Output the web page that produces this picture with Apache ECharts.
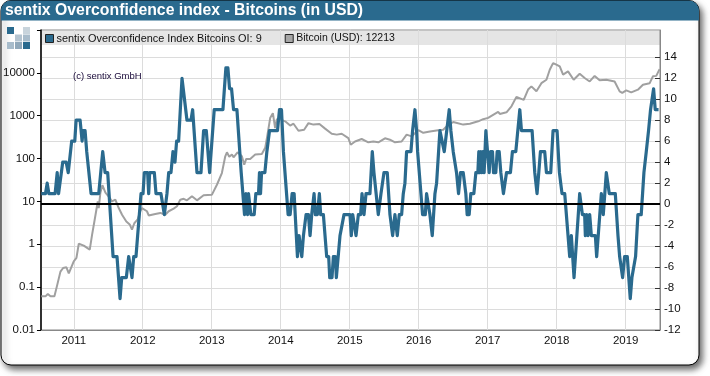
<!DOCTYPE html>
<html>
<head>
<meta charset="utf-8">
<title>sentix Overconfidence index - Bitcoins</title>
<style>
html,body{margin:0;padding:0;background:#fff;}
#chart{width:710px;height:376px;}
</style>
<script src="https://cdn.jsdelivr.net/npm/echarts@6/dist/echarts.min.js"></script>
</head>
<body>
<div id="chart"></div>
<script>
// year ticks on the bottom axis, index ticks on the right axis
var yearTicks = [2011,2012,2013,2014,2015,2016,2017,2018,2019];
var indexTicks = [-12,-10,-8,-6,-4,-2,0,2,4,6,8,10,12,14];

// sentix index (decimal year / value at each change)
var indexYears = [
2010.53,2010.59,2010.615,2010.64,2010.73,2010.76,2010.78,2010.84,2010.89,2010.92,2010.97,2011.015,2011.034,2011.092,2011.121,2011.135,2011.164,2011.188,2011.208,2011.251,2011.362,2011.42,2011.435,2011.454,2011.492,2011.57,2011.627,2011.671,2011.695,2011.762,2011.796,2011.82,2011.844,2011.869,2011.902,2011.926,2011.951,2011.975,2012.004,2012.023,2012.071,2012.086,2012.10,2012.168,2012.192,2012.264,2012.313,
2012.337,2012.351,2012.376,2012.409,2012.438,2012.467,2012.491,2012.52,2012.569,2012.593,2012.641,2012.699,2012.723,2012.737,2012.786,2012.844,2012.882,2012.921,2012.969,2012.988,2013.036,2013.162,2013.205,2013.234,2013.258,2013.287,2013.316,2013.365,2013.427,2013.442,2013.475,2013.495,2013.519,2013.533,2013.557,2013.567,2013.615,2013.639,2013.678,2013.692,2013.707,2013.722,2013.77,2013.799,2013.837,2013.953,2013.982,2014.011,
2014.039,2014.059,2014.107,2014.136,2014.165,2014.194,2014.242,2014.266,2014.305,2014.329,2014.367,2014.401,2014.425,2014.449,2014.483,2014.502,2014.531,2014.56,2014.579,2014.618,2014.666,2014.695,2014.71,2014.743,2014.763,2014.792,2014.806,2014.821,2014.859,2014.883,2014.917,2015.004,2015.023,2015.043,2015.062,2015.091,2015.125,2015.158,2015.178,2015.207,2015.236,2015.293,2015.327,2015.351,2015.375,2015.414,2015.429,2015.453,2015.496,2015.544,2015.583,2015.622,2015.655,2015.689,2015.718,
2015.752,2015.776,2015.80,2015.824,2015.887,2015.911,2015.945,2015.969,2015.984,2016.056,2016.095,2016.114,2016.138,2016.162,2016.196,2016.235,2016.259,2016.307,2016.331,2016.37,2016.394,2016.442,2016.466,2016.50,2016.548,2016.577,2016.606,2016.645,2016.683,2016.702,2016.731,2016.755,2016.799,2016.828,2016.857,2016.871,2016.886,2016.90,2016.915,2016.929,2016.948,2016.973,2016.992,2017.021,2017.04,2017.069,2017.084,2017.117,2017.137,2017.166,2017.19,2017.228,2017.272,2017.329,2017.358,2017.407,2017.436,2017.465,2017.489,
2017.643,2017.682,2017.715,2017.74,2017.764,2017.826,2017.851,2017.913,2017.947,2018.005,2018.039,2018.058,2018.077,2018.116,2018.14,2018.159,2018.188,2018.212,2018.251,2018.333,2018.347,2018.372,2018.405,2018.415,2018.434,2018.454,2018.478,2018.502,2018.526,2018.56,2018.579,2018.598,2018.647,2018.675,2018.719,2018.733,2018.762,2018.849,2018.888,2018.912,2018.936,2018.955,2018.984,2019.023,2019.066,2019.09,2019.114,2019.143,2019.177,2019.225,2019.264,2019.298,2019.331,2019.36,2019.404,2019.428,2019.476
];
var indexValues = [
1,1,2,1,1,3,1,4,4,3,6,6,8,8,6,7,7,5,5,1,1,5,5,3,3,-5,-5,-9,-7,-7,-5,-5,-7,-5,-5,-3,-3,1,1,3,3,1,3,3,1,1,-1,
-1,1,3,3,5,4,6,6,12,12,8,8,9,9,3,3,7,7,3,3,9,9,13,13,11,11,9,9,3,3,-1,1,-1,1,1,-1,-1,1,1,3,1,3,3,5,7,7,9,9,
5,5,-1,-1,1,1,-5,-3,-5,-3,-1,-1,-3,-1,1,-1,-1,1,-1,-1,-5,-5,-7,-7,-5,-5,-7,-7,-3,-3,-1,-1,-3,-1,-1,-3,-1,-1,1,-1,1,1,5,3,3,-1,-1,1,3,3,-1,-3,-1,-3,-1,
-1,1,2,5,5,7,9,7,5,-1,-1,1,1,-1,-3,1,2,7,7,5,5,9,7,5,3,1,3,3,1,-1,-1,1,1,3,3,5,3,5,3,5,3,7,7,3,5,5,3,3,5,5,3,1,3,3,5,5,7,9,7,
7,3,1,3,5,5,3,3,7,7,3,3,1,1,-1,-1,-5,-3,-7,1,1,-1,-1,-3,-1,-3,-1,-3,-3,-3,-5,-5,1,-1,3,3,1,1,-3,-5,-5,-7,-5,-5,-9,-7,-7,-5,-1,-1,3,5,7,9,11,9,9
];

// bitcoin price in USD
var btcYears = [
2010.53,2010.59,2010.624,2010.663,2010.72,2010.759,2010.783,2010.807,2010.846,2010.894,2010.928,2011.0,2011.039,2011.073,2011.145,2011.232,2011.266,2011.299,2011.328,2011.348,2011.362,2011.386,2011.415,2011.459,2011.507,2011.555,2011.603,2011.652,2011.70,2011.762,2011.811,2011.844,2011.878,2011.926,2011.965,2011.989,2012.061,2012.086,2012.182,2012.255,
2012.327,2012.376,2012.448,2012.496,2012.544,2012.593,2012.641,2012.713,2012.786,2012.882,2013.003,2013.075,2013.147,2013.196,2013.22,2013.254,2013.292,2013.316,2013.374,2013.437,2013.471,2013.50,2013.557,2013.63,2013.726,2013.775,2013.808,2013.847,2013.886,2013.919,2013.944,2013.982,
2014.064,2014.136,2014.185,2014.257,2014.339,2014.402,2014.474,2014.561,2014.643,2014.739,2014.812,2014.884,2014.98,2015.014,2015.077,2015.173,2015.27,2015.342,2015.415,2015.511,2015.583,2015.656,2015.752,2015.825,2015.897,2015.994,2016.066,2016.162,2016.283,2016.355,2016.428,2016.50,
2016.645,2016.741,2016.862,2016.934,2017.006,2017.151,2017.175,2017.272,2017.344,2017.416,2017.522,2017.585,2017.633,2017.706,2017.778,2017.851,2017.899,2017.947,2017.995,2018.044,2018.092,2018.164,2018.246,2018.333,2018.405,2018.478,2018.55,2018.622,2018.719,2018.839,2018.912,2018.95,2019.008,2019.08,2019.177,2019.25,2019.346,2019.394,2019.443,2019.491
];
var btcValues = [
0.061,0.061,0.069,0.061,0.061,0.11,0.11,0.23,0.28,0.29,0.21,0.40,0.48,1.03,0.93,0.75,1.68,3.4,6.4,10,7,16,24,16,13,10,11,7,4.9,3.4,2.9,2.2,3.1,3.8,6,7,5.9,4.7,5.1,5.4,
4.9,5.9,6.8,7.7,11,11.5,10.6,13.2,10.6,13.9,14.4,24.5,46,113,140,110,124,107,140,113,72,98,98,124,128,178,363,880,1150,513,830,830,
740,590,650,445,470,670,620,640,500,380,362,380,300,210,250,286,240,250,240,297,276,240,250,362,330,460,400,430,460,470,620,710,
620,650,740,830,890,1230,1100,1200,1660,2750,2350,4070,4840,3720,5750,6900,11800,16900,15500,14100,9100,10800,6900,9500,7600,6300,8500,6700,6900,6300,3700,3400,3900,3500,4050,5300,5700,8300,8500,12213
];

var BLUE = '#2a6a8e';
var GRID = '#dcdcdc';
var FONT = '"Liberation Sans", Arial, sans-serif';

function zip(xs,ys){
    var out = [];
    for(var i = 0;i<xs.length;i++){
        out.push([xs[i],ys[i]]);
    }
    return out;
}

// the small logo squares left of the plot
function logoSquare(x,y,color){
    return {type:'rect',z:-1,shape:{x:x,y:y,width:7,height:7},style:{fill:color}};
}

var chart = echarts.init(document.getElementById('chart'));
chart.setOption({
    animation:false,
    backgroundColor:'#fff',
    textStyle:{fontFamily:FONT},
    title:[
        {text:'sentix Overconfidence index - Bitcoins (in USD)',left:5,top:3,padding:0,
            textStyle:{color:'#fff',fontSize:15.8,fontWeight:'bold',fontFamily:FONT}},
        {text:'(c) sentix GmbH',left:73,top:71,padding:0,
            textStyle:{color:'#1a0a3a',fontSize:9.5,fontWeight:'normal',fontFamily:FONT}}
    ],
    legend:{
        left:45,top:33,padding:0,itemWidth:8,itemHeight:8,itemGap:23,icon:'rect',
        selectedMode:false,
        itemStyle:{borderColor:'#222',borderWidth:1},
        textStyle:{fontSize:10.9,color:'#111',fontFamily:FONT,padding:[0,0,0,-2]},
        data:[
            {name:'sentix Overconfidence Index Bitcoins OI: 9'},
            {name:'Bitcoin (USD): 12213',textStyle:{fontSize:10.5,color:'#111',fontFamily:FONT,padding:[0,0,0,-2]}}
        ]
    },
    graphic:[
        {type:'rect',z:-3,shape:{x:1,y:0.5,width:698,height:364.5,r:10},
            style:{fill:'#fff',stroke:'#000',lineWidth:1,shadowBlur:6,shadowOffsetX:3,shadowOffsetY:4,shadowColor:'rgba(0,0,0,0.6)'}},
        {type:'rect',z:-2,shape:{x:1,y:0.5,width:698,height:20,r:[10,10,0,0]},style:{fill:BLUE}},
        {type:'rect',z:-2,shape:{x:41,y:31,width:619,height:14},style:{fill:'#e5e5e5'}},
        logoSquare(7,27,'#2a6a8e'),logoSquare(23,27,'#c8d4dc'),
        logoSquare(15,34.5,'#b4c4d0'),logoSquare(23,34.5,'#a8bccb'),
        logoSquare(7,42,'#a8bccb'),logoSquare(15,42,'#90a8ba'),logoSquare(23,42,'#2a6a8e')
    ],
    grid:{left:40,right:50,top:30,bottom:46,show:true,borderColor:'#888',borderWidth:1,backgroundColor:'transparent'},
    xAxis:{
        type:'value',min:2010.525,max:2019.497,
        axisLine:{show:true,onZero:false,lineStyle:{color:'#888'}},
        axisTick:{show:false,customValues:yearTicks},
        axisLabel:{customValues:yearTicks,margin:5,fontSize:11.5,color:'#111',formatter:function(v){return String(v);}},
        splitLine:{show:true,lineStyle:{color:GRID,width:1}}
    },
    yAxis:[
        {
            type:'log',logBase:10,min:0.01,max:100000,position:'left',splitNumber:7,
            axisLine:{show:true,onZero:false,lineStyle:{color:'#000',width:1.5}},
            axisTick:{show:true,length:4,lineStyle:{color:'#000'}},
            axisLabel:{margin:6,fontSize:11.5,color:'#111',formatter:function(v){
                return v>10000?'':String(+v.toPrecision(1));
            }},
            splitLine:{show:false}
        },
        {
            type:'value',min:-12,max:16.6,interval:2,position:'right',
            axisLine:{show:true,onZero:false,lineStyle:{color:'#888'}},
            axisTick:{show:true,inside:true,length:5,lineStyle:{color:'#333'},customValues:indexTicks},
            axisLabel:{customValues:indexTicks,margin:4,fontSize:11.5,color:'#111',formatter:function(v){return String(v);}},
            splitLine:{show:true,lineStyle:{color:GRID,width:1}}
        }
    ],
    series:[
        {
            name:'Bitcoin (USD): 12213',type:'line',yAxisIndex:0,z:2,
            data:zip(btcYears,btcValues),showSymbol:false,symbol:'none',
            itemStyle:{color:'#a6a6a6'},lineStyle:{color:'#a0a0a0',width:2}
        },
        {
            name:'sentix Overconfidence Index Bitcoins OI: 9',type:'line',yAxisIndex:1,z:3,
            data:zip(indexYears,indexValues),showSymbol:false,symbol:'none',
            itemStyle:{color:BLUE},lineStyle:{color:BLUE,width:3.2,join:'round'},
            markLine:{silent:true,symbol:'none',label:{show:false},
                lineStyle:{color:'#000',width:2.2,type:'solid'},data:[{yAxis:0}]}
        }
    ]
});
</script>
</body>
</html>
